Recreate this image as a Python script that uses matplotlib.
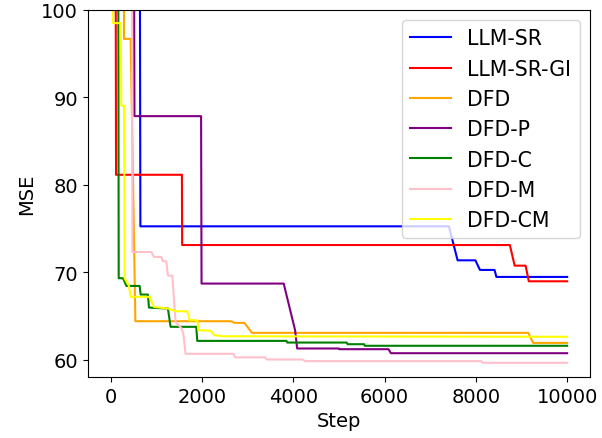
import matplotlib
matplotlib.use("Agg")
import matplotlib.pyplot as plt
from matplotlib.ticker import MultipleLocator

# MSE curves (step, value); values above 100 are clipped by the axis
llm_sr_x = [0, 630, 650, 7410, 7600, 7990, 8090, 8410, 8450, 10000]
llm_sr_y = [130, 130, 75.24, 75.24, 71.35, 71.35, 70.25, 70.25, 69.45, 69.45]

llm_sr_gi_x = [0, 100, 117, 1560, 1565, 8745, 8850, 9090, 9160, 10000]
llm_sr_gi_y = [130, 130, 81.14, 81.14, 73.1, 73.1, 70.74, 70.74, 68.95, 68.95]

dfd_x = [0, 285, 291, 437, 540, 2640, 2710, 2930, 3095, 9148, 9255, 10000]
dfd_y = [130, 130, 96.69, 96.69, 64.38, 64.38, 64.19, 64.19, 63.05, 63.05, 61.9, 61.9]

dfd_p_x = [0, 500, 520, 1980, 1990, 3790, 4040, 4085, 5000, 5010, 6085, 6140, 10000]
dfd_p_y = [130, 130, 87.85, 87.85, 68.69, 68.69, 63.35, 61.26, 61.26, 61.18, 61.18, 60.72, 60.72]

dfd_c_x = [0, 160, 175, 270, 343, 634, 656, 816, 838, 1253, 1312, 1874, 1896,
           3850, 3870, 5170, 5190, 5550, 5570, 10000]
dfd_c_y = [130, 130, 69.3, 69.3, 68.42, 68.42, 67.43, 67.43, 65.94, 65.83, 63.74, 63.74, 62.13,
           62.13, 61.94, 61.94, 61.75, 61.75, 61.57, 61.57]

dfd_m_x = [0, 460, 474, 890, 947, 1108, 1144, 1218, 1253, 1349, 1421, 1546, 1590, 1640,
           2690, 2727, 3383, 3418, 4205, 4258, 8120, 8150, 10000]
dfd_m_y = [130, 130, 72.3, 72.3, 71.74, 71.74, 71.24, 71.24, 69.6, 69.6, 64.3, 63.6, 63.0, 60.65,
           60.65, 60.25, 60.25, 60.0, 60.0, 59.81, 59.81, 59.62, 59.62]

dfd_cm_x = [0, 40, 50, 219, 234, 291, 306, 394, 437, 853, 947, 1253, 1436, 1677, 1727,
            1896, 1925, 2180, 2274, 2455, 10000]
dfd_cm_y = [130, 130, 98.5, 98.5, 89.06, 89.06, 69.26, 68.5, 67.17, 67.17, 66.02, 65.83, 65.52, 65.52, 64.5,
            64.5, 63.35, 63.31, 62.78, 62.66, 62.6]

series = [
    ('LLM-SR', llm_sr_x, llm_sr_y, 'blue'),
    ('LLM-SR-GI', llm_sr_gi_x, llm_sr_gi_y, 'red'),
    ('DFD', dfd_x, dfd_y, 'orange'),
    ('DFD-P', dfd_p_x, dfd_p_y, 'purple'),
    ('DFD-C', dfd_c_x, dfd_c_y, 'green'),
    ('DFD-M', dfd_m_x, dfd_m_y, 'pink'),
    ('DFD-CM', dfd_cm_x, dfd_cm_y, 'yellow'),
]

plt.rcParams['font.size'] = 14

fig, ax = plt.subplots(figsize=(6.02, 4.39), dpi=100)

for name, xs, ys, color in series:
    ax.plot(xs, ys, color=color, linewidth=1.5, label=name)

ax.set_ylim(58, 100)
ax.yaxis.set_major_locator(MultipleLocator(10))
ax.set_xlabel('Step')
ax.set_ylabel('MSE')
ax.legend(loc='upper right', fontsize=14.8)

fig.subplots_adjust(left=0.146, right=0.98, bottom=0.139, top=0.975)
fig.savefig('out.png', dpi=100)
